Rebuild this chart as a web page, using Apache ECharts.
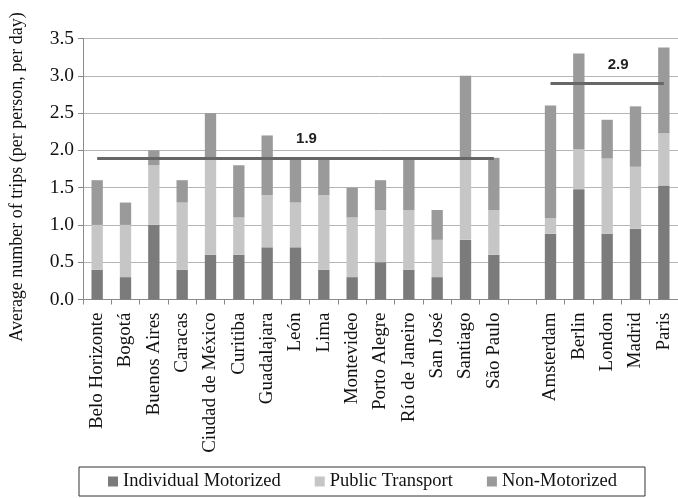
<!DOCTYPE html>
<html>
<head>
<meta charset="utf-8">
<script src="https://cdn.jsdelivr.net/npm/echarts@6/dist/echarts.min.js"></script>
<style>html,body{margin:0;padding:0;background:#fff;}#c{width:678px;height:498px;}</style>
</head>
<body>
<div id="c"></div>
<script>
const categories = ['Belo Horizonte','Bogotá','Buenos Aires','Caracas','Ciudad de México','Curitiba','Guadalajara','León','Lima','Montevideo','Porto Alegre','Río de Janeiro','San José','Santiago','São Paulo','','Amsterdam','Berlin','London','Madrid','Paris'];
const individualMotorized = [0.4,0.3,1.0,0.4,0.6,0.6,0.7,0.7,0.4,0.3,0.5,0.4,0.3,0.8,0.6,null,0.88,1.48,0.88,0.95,1.53];
const publicTransport     = [0.6,0.7,0.8,0.9,1.3,0.5,0.7,0.6,1.0,0.8,0.7,0.8,0.5,1.1,0.6,null,0.21,0.53,1.01,0.83,0.70];
const nonMotorized        = [0.6,0.3,0.2,0.3,0.6,0.7,0.8,0.6,0.5,0.4,0.4,0.7,0.4,1.1,0.7,null,1.51,1.29,0.52,0.81,1.15];
const seriesNames = ['Individual Motorized','Public Transport','Non-Motorized'];
const yTicks = [0,0.5,1,1.5,2,2.5,3,3.5];
const groupAverages = [
  {from:'Belo Horizonte', to:'São Paulo', value:1.9},
  {from:'Amsterdam', to:'Paris', value:2.9}
];

const colors = ['#7b7b7b','#c6c6c6','#9a9a9a'];
const serif = '"Liberation Serif","Times New Roman",serif';

const chart = echarts.init(document.getElementById('c'), null, {renderer:'canvas'});
const mk = (name, data, i) => ({
  name, type:'bar', stack:'t', data, barWidth:'40%',
  itemStyle:{color:colors[i]}, emphasis:{disabled:true}
});
const s = [mk(seriesNames[0], individualMotorized,0), mk(seriesNames[1], publicTransport,1), mk(seriesNames[2], nonMotorized,2)];
s[2].markLine = {
  symbol:['none','none'], silent:true, animation:false,
  lineStyle:{color:'#676767', width:3, type:'solid'},
  label:{show:true, position:'middle', distance:11, offset:[11,0], formatter:p=>p.value.toFixed(1),
         fontFamily:'"Liberation Sans","Open Sans",sans-serif', fontWeight:'bold', fontSize:15, color:'#222'},
  data: groupAverages.map(g=>[{coord:[g.from,g.value], value:g.value},{coord:[g.to,g.value], value:g.value}])
};

chart.setOption({
  animation:false,
  backgroundColor:'#fff',
  grid:{left:81, top:38.5, width:603, height:261, containLabel:false},
  legend:{
    data:seriesNames, left:79, top:467,
    padding:[5,28,5,29], itemGap:34, itemWidth:10, itemHeight:10,
    borderColor:'#333', borderWidth:1, icon:'rect',
    textStyle:{fontFamily:serif, fontSize:18.5, color:'#111'}
  },
  xAxis:{
    type:'category', data:categories, boundaryGap:true,
    axisLine:{lineStyle:{color:'#8a8a8a'}},
    axisTick:{show:true, alignWithLabel:false, length:5, lineStyle:{color:'#8a8a8a'}, interval:0},
    axisLabel:{rotate:90, interval:0, margin:13, fontFamily:serif, fontSize:19, color:'#111'}
  },
  yAxis:{
    type:'value', min:yTicks[0], max:yTicks[yTicks.length-1], interval:0.5,
    name:'Average number of trips (per person, per day)', nameLocation:'middle', nameGap:57,
    nameTextStyle:{fontFamily:serif, fontSize:18, color:'#111', padding:[0,16,0,0]},
    axisLine:{show:true, lineStyle:{color:'#8a8a8a'}},
    axisTick:{show:true, length:5, lineStyle:{color:'#8a8a8a'}},
    axisLabel:{margin:9, fontFamily:serif, fontSize:19.5, color:'#111', formatter:v=>v.toFixed(1)},
    splitLine:{show:true, lineStyle:{color:'#b5b5b5', width:1}}
  },
  series:s
});
</script>
</body>
</html>
